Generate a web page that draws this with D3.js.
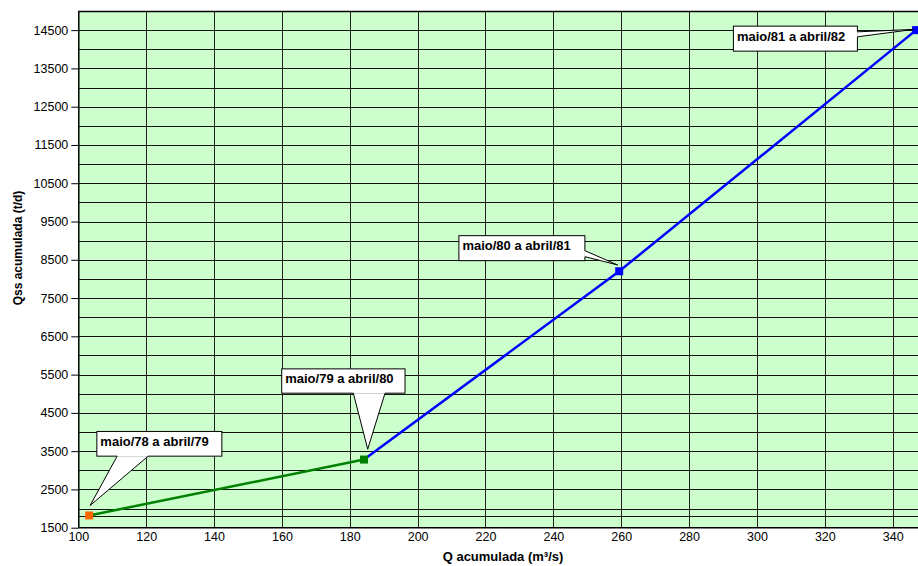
<!DOCTYPE html>
<html><head><meta charset="utf-8">
<script src="https://cdn.jsdelivr.net/npm/d3@7"></script>
<style>body{margin:0;background:#fff}svg{display:block;font-family:"Liberation Sans",Arial,sans-serif}</style>
</head><body><svg id="c" width="918" height="566"></svg>
<script>
// Data
const periods = ["maio/78 a abril/79","maio/79 a abril/80","maio/80 a abril/81","maio/81 a abril/82"];
const qAcum = [103.2, 184.2, 259.4, 346.9];
const qssAcum = [1820, 3280, 8200, 14500];
const markerColors = ["#FF6600","#008000","#0000FF","#0000FF"];
const xTicks = [100,120,140,160,180,200,220,240,260,280,300,320,340];
const yTicks = [1500,2500,3500,4500,5500,6500,7500,8500,9500,10500,11500,12500,13500,14500];
const yGrid = [1800,2000,2500,3000,3500,4000,4500,5000,5500,6000,6500,7000,7500,8000,8500,9000,9500,10000,10500,11000,11500,12000,12500,13000,13500,14000,14500];
const xTitle = "Q acumulada (m³/s)";
const yTitle = "Qss acumulada (t/d)";

const svg = d3.select("#c");
const mLeft = 78.3, mTop = 11, mBottom = 527.7;
const x = d3.scaleLinear().domain([100, 350]).range([mLeft, mLeft + 250*3.3933]);
const y = d3.scaleLinear().domain([1500, 15000]).range([mBottom, mTop]);
const mRight = x(350);

svg.append("rect").attr("x", mLeft).attr("y", mTop).attr("width", mRight-mLeft).attr("height", mBottom-mTop).attr("fill", "#CCFFCC");

// grid
svg.append("g").selectAll("line").data(yGrid).join("line")
  .attr("x1", mLeft).attr("x2", mRight).attr("y1", d=>Math.round(y(d))+0.5).attr("y2", d=>Math.round(y(d))+0.5)
  .attr("stroke", "#111").attr("stroke-width", 1);
svg.append("g").selectAll("line").data(xTicks.slice(1)).join("line")
  .attr("y1", mTop).attr("y2", mBottom).attr("x1", d=>Math.round(x(d))+0.5).attr("x2", d=>Math.round(x(d))+0.5)
  .attr("stroke", "#222").attr("stroke-width", 1);

// border
svg.append("path").attr("d", `M${mRight},${mTop+0.5}H${mLeft+0.5}V${mBottom}H${mRight}`).attr("fill","none").attr("stroke","#000").attr("stroke-width",1.5);

// axes
const yAx = svg.append("g").attr("transform", `translate(${mLeft},0)`)
  .call(d3.axisLeft(y).tickValues(yTicks).tickSize(7).tickFormat(d3.format("d")));
yAx.select(".domain").remove();
yAx.selectAll("text").attr("font-size", 12.5).attr("fill","#000").attr("font-family","Liberation Sans, Arial, sans-serif").attr("x", -10);
yAx.selectAll("line").attr("stroke","#000");

const xAx = svg.append("g").attr("transform", `translate(0,${mBottom})`)
  .call(d3.axisBottom(x).tickValues(xTicks).tickSize(0).tickFormat(d3.format("d")));
xAx.select(".domain").remove();
xAx.selectAll("text").attr("font-size", 12.5).attr("fill","#000").attr("font-family","Liberation Sans, Arial, sans-serif").attr("dy", "0.71em").attr("y", 4);

svg.append("text").attr("x", 503).attr("y", 561).attr("text-anchor","middle")
  .attr("font-size", 13).attr("font-weight","bold").text(xTitle);
svg.append("text").attr("transform", "translate(22,248) rotate(-90)").attr("text-anchor","middle")
  .attr("font-size", 12).attr("font-weight","bold").text(yTitle);

// lines
const pts = qAcum.map((q,i)=>({q, s:qssAcum[i], c:markerColors[i], p:periods[i]}));
const line = d3.line().x(d=>x(d.q)).y(d=>y(d.s));
svg.append("path").datum(pts.slice(0,2)).attr("d", line).attr("fill","none").attr("stroke","#008000").attr("stroke-width",2.5);
svg.append("path").datum(pts.slice(1)).attr("d", line).attr("fill","none").attr("stroke","#0000FF").attr("stroke-width",2.5);
svg.append("g").selectAll("rect").data(pts).join("rect")
  .attr("x", d=>x(d.q)-4).attr("y", d=>y(d.s)-4).attr("width",8).attr("height",8).attr("fill", d=>d.c);

// callouts: box offset relative to point, pointer base (relative to box) and tip offset (relative to point)
const callouts = [
  {bx:7.7, by:-84, bw:125, bh:24.7, base:[[20.3,24.7],[51.3,24.7]], tip:[1,-10]},
  {bx:-82.3, by:-90.7, bw:123.3, bh:24.3, base:[[71.6,24.3],[103.3,24.3]], tip:[3.7,-10.4]},
  {bx:-160.3, by:-35.6, bw:126, bh:25, base:[[126,15],[126,21]], tip:[-1.6,-6.3]},
  {bx:-182.7, by:-4, bw:124, bh:25, base:[[124,5.7],[124,10.7]], tip:[-2.7,-0.7]}
];
const cg = svg.append("g");
pts.forEach((d,i)=>{
  const c = callouts[i];
  const px = x(d.q), py = y(d.s);
  const X = px + c.bx, Y = py + c.by;
  cg.append("rect").attr("x", X).attr("y", Y).attr("width", c.bw).attr("height", c.bh)
    .attr("fill","#fff").attr("stroke","#000").attr("stroke-width",1);
  const b1 = [X + c.base[0][0], Y + c.base[0][1]], b2 = [X + c.base[1][0], Y + c.base[1][1]];
  const t = [px + c.tip[0], py + c.tip[1]];
  cg.append("path").attr("d", `M${b1}L${t}L${b2}`).attr("fill","#fff").attr("stroke","#000").attr("stroke-width",1);
  const vert = b2[0]===b1[0];
  cg.append("line").attr("x1", b1[0]).attr("y1", b1[1]).attr("x2", b2[0]).attr("y2", b2[1])
    .attr("stroke","#fff").attr("stroke-width", 1.5)
    .attr("transform", vert ? "translate(-0.8,0)" : "translate(0,-0.8)");
  cg.append("text").attr("x", X + 3.5).attr("y", Y + 14.5).attr("font-size", 13).attr("font-weight","bold").text(d.p);
});
</script></body></html>
